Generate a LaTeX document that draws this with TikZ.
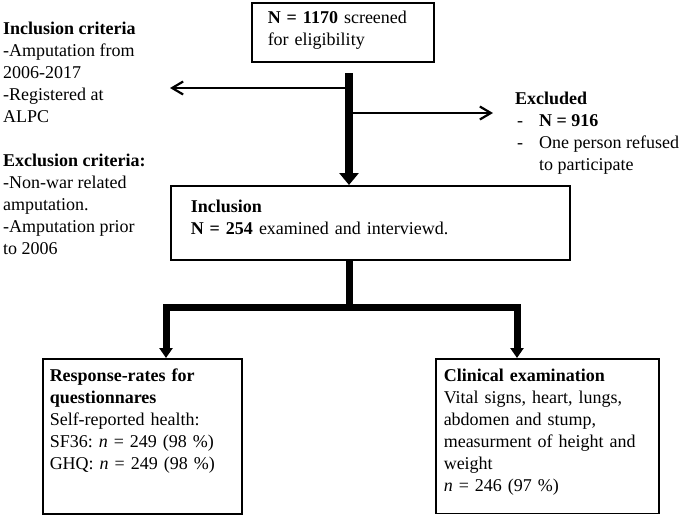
\documentclass[tikz,border=0pt]{standalone}
\usepackage{fontspec}
\setmainfont{Liberation Serif}
\usetikzlibrary{arrows.meta}
\frenchspacing

\newcommand{\exitem}[1]{\makebox[24pt][l]{\hspace*{2pt}-}#1}

\begin{document}
\begin{tikzpicture}[
  x=1pt, y=-1pt,
  every node/.style={font=\fontsize{18}{22}\selectfont},
  box/.style={draw, line width=1.5pt, align=left, anchor=north west},
  plain/.style={inner sep=0pt, align=left, anchor=north west},
  mainflow/.style={line width=8pt, -{Triangle[length=12pt,width=19pt]}},
  forkflow/.style={line width=7pt, line join=miter, {Triangle[length=10pt,width=13pt]}-{Triangle[length=10pt,width=13pt]}},
  sideflow/.style={line width=2.2pt, -{Straight Barb[length=11pt,width=13pt]}}
  ]
  \useasboundingbox (0,0) rectangle (685,515);

  \node[box, inner xsep=16pt, inner ysep=8.6pt, text width=150pt, text depth=29.6pt] (screen) at (251,2) {\textbf{N = 1170} screened\\for eligibility};
  \node[box, inner xsep=20pt, inner ysep=14.6pt, text width=359pt, text depth=32.6pt] (incl) at (170,185) {\textbf{Inclusion}\\\textbf{N = 254} examined and interviewd.};

  \node[box, inner xsep=7pt, inner ysep=10.2pt, text width=185pt, text depth=122pt] (resp) at (42,358) {\textbf{Response-rates for}\\\textbf{questionnares}\\Self-reported health:\\SF36: \textit{n} = 249 (98 \%)\\GHQ: \textit{n} = 249 (98 \%)};
  \node[box, inner xsep=8pt, inner ysep=10.2pt, text width=207pt, text depth=122pt] (clin) at (435,358) {\textbf{Clinical examination}\\Vital signs, heart, lungs,\\abdomen and stump,\\measurment of height and\\weight\\\textit{n} = 246 (97 \%)};

  \node[plain] (crit) at (3,22) {\textbf{Inclusion criteria}\\-Amputation from\\2006-2017\\-Registered at\\ALPC\\[22pt]\textbf{Exclusion criteria:}\\-Non-war related\\amputation.\\-Amputation prior\\to 2006};
  \node[plain] (excl) at (515,92) {\textbf{Excluded}\\\exitem{\textbf{N = 916}}\\\exitem{One person refused}\\\makebox[24pt]{}to participate};

  \coordinate (split) at (349,73);
  \coordinate (critend) at (170,88);
  \coordinate (exclend) at (493,113);
  \coordinate (fork) at (349,307);
  \coordinate (forkL) at (166,307);
  \coordinate (forkR) at (517,307);

  \draw[mainflow] (split) -- (split |- incl.north);
  \draw[sideflow] (split |- critend) -- (critend);
  \draw[sideflow] (split |- exclend) -- (exclend);

  \draw[line width=7pt] (incl.south -| fork) -- (fork);
  \draw[forkflow] (resp.north -| forkL) -- (forkL) -- (forkR) -- (clin.north -| forkR);
\end{tikzpicture}
\end{document}
